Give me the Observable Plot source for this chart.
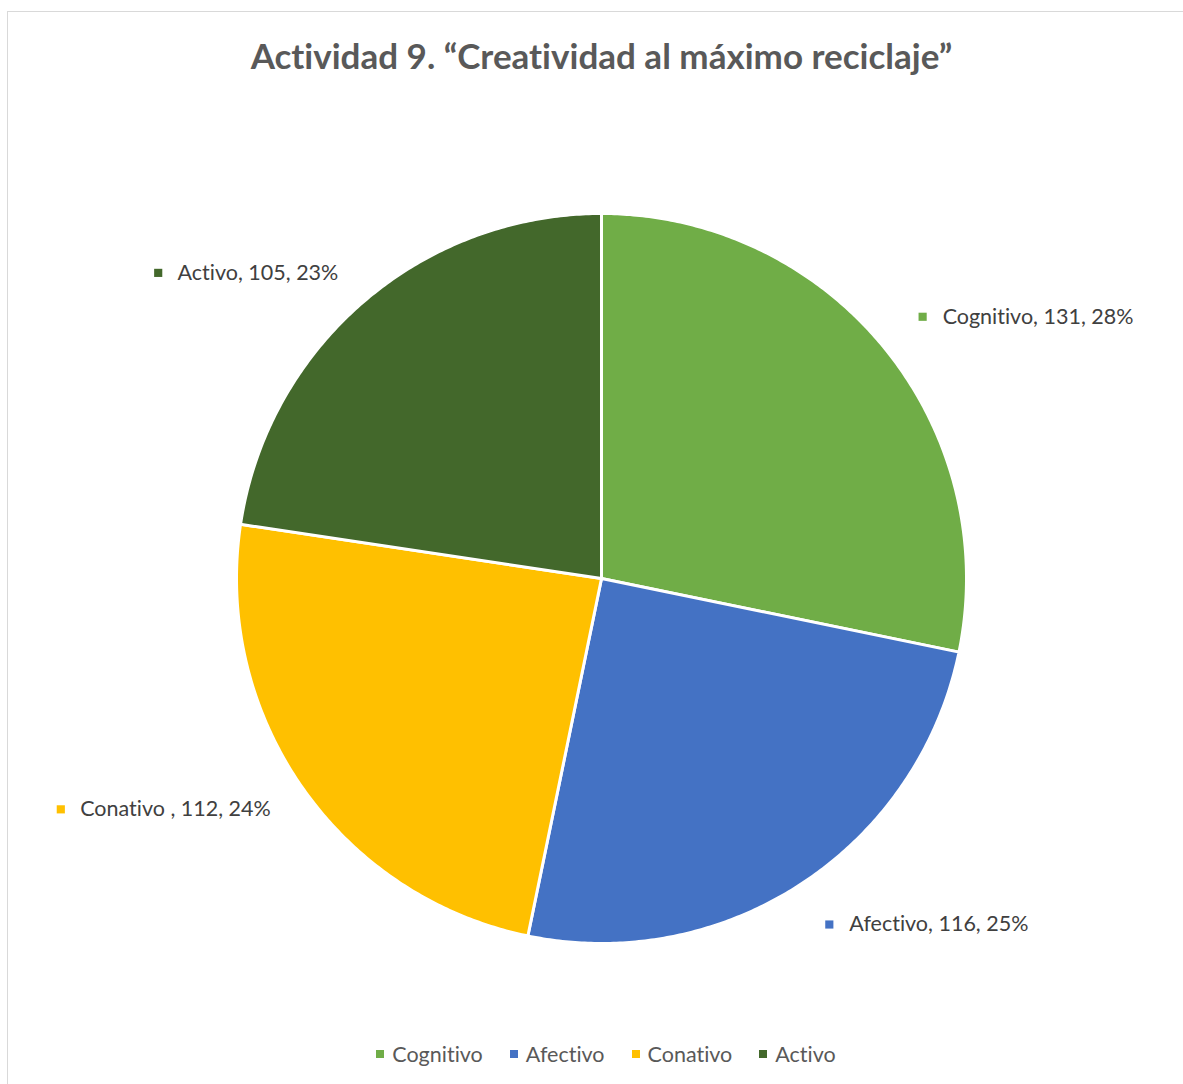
<!DOCTYPE html>
<html><head><meta charset="utf-8">
<script src="https://cdn.jsdelivr.net/npm/d3@7"></script>
<script src="https://cdn.jsdelivr.net/npm/@observablehq/plot@0.6"></script>
<style>
html,body{margin:0;padding:0;overflow:hidden;background:#fff;font-family:Lato,"Open Sans",sans-serif;width:1183px;height:1084px;font-variant-ligatures:none;}
svg text{font-variant-ligatures:none;}
#frame{position:absolute;left:7px;top:11px;width:1300px;height:1200px;border:1px solid #d9d9d9;box-sizing:border-box;}
#title{position:absolute;top:30px;left:0;width:1203px;text-align:center;font-weight:bold;font-size:35px;color:#595959;line-height:50px;}
#chart{position:absolute;left:0;top:100px;}
#legend{position:absolute;left:0;top:1040px;width:1212px;display:flex;justify-content:center;gap:27px;font-size:21.5px;color:#595959;line-height:28px;}
#legend .item{display:flex;align-items:center;gap:8px;}
#legend .sw{width:8px;height:8px;display:inline-block;}
</style></head>
<body>
<div id="frame"></div>
<div id="title">Actividad 9. “Creatividad al máximo reciclaje”</div>
<div id="chart"></div>
<div id="legend"></div>
<script>
const categories = ["Cognitivo", "Afectivo", "Conativo ", "Activo"];
const values = [131, 116, 112, 105];
const colors = ["#70AD47", "#4472C4", "#FFC000", "#43682B"];

const W = 1183, H = 930, cx = 601, cy = 478, R = 365;
const FS = 21.5;
const total = d3.sum(values);
const arcs = d3.pie().sort(null).value(d => d)(values);

const slicePts = [];
arcs.forEach((a, i) => {
  const name = categories[i];
  slicePts.push({name, x: 0, y: 0});
  const step = Math.PI / 360;
  for (let t = a.startAngle; t < a.endAngle; t += step) {
    slicePts.push({name, x: R * Math.sin(t), y: R * Math.cos(t)});
  }
  slicePts.push({name, x: R * Math.sin(a.endAngle), y: R * Math.cos(a.endAngle)});
  slicePts.push({name, x: 0, y: 0});
});

const ctx = document.createElement("canvas").getContext("2d");
ctx.font = FS + "px Lato";
const labels = arcs.map((a, i) => {
  const mid = (a.startAngle + a.endAngle) / 2;
  const right = Math.sin(mid) > 0;
  const text = `${categories[i]}, ${values[i]}, ${Math.round(values[i] / total * 100)}%`;
  const w = ctx.measureText(text).width;
  const rr = right ? 1.135 * R : 1.105 * R;
  const px = rr * Math.sin(mid), py = rr * Math.cos(mid);
  return right
    ? {name: categories[i], text, right, sx: px, tx: px + 20, y: py}
    : {name: categories[i], text, right, sx: px - w - 19, tx: px, y: py};
});

const plot = Plot.plot({
  width: W, height: H, margin: 0,
  x: {domain: [-cx, W - cx], axis: null},
  y: {domain: [-(H - cy), cy], axis: null},
  color: {domain: categories, range: colors},
  style: {fontFamily: "Lato, 'Open Sans', sans-serif", background: "transparent"},
  marks: [
    Plot.line(slicePts, {x: "x", y: "y", z: "name", fill: "name", stroke: "white", strokeWidth: 3, strokeLinejoin: "round"}),
    Plot.dot(labels, {x: "sx", y: "y", fill: "name", symbol: "square", r: 4.6, stroke: null}),
    Plot.text(labels.filter(d => d.right), {x: "tx", y: "y", text: "text", textAnchor: "start", fill: "#404040", fontSize: FS}),
    Plot.text(labels.filter(d => !d.right), {x: "tx", y: "y", text: "text", textAnchor: "end", fill: "#404040", fontSize: FS})
  ]
});
document.getElementById("chart").appendChild(plot);

const leg = document.getElementById("legend");
categories.forEach((c, i) => {
  const it = document.createElement("div");
  it.className = "item";
  const sw = document.createElement("span");
  sw.className = "sw";
  sw.style.background = colors[i];
  const tx = document.createElement("span");
  tx.textContent = c.trim();
  it.appendChild(sw); it.appendChild(tx);
  leg.appendChild(it);
});
</script>
</body></html>
